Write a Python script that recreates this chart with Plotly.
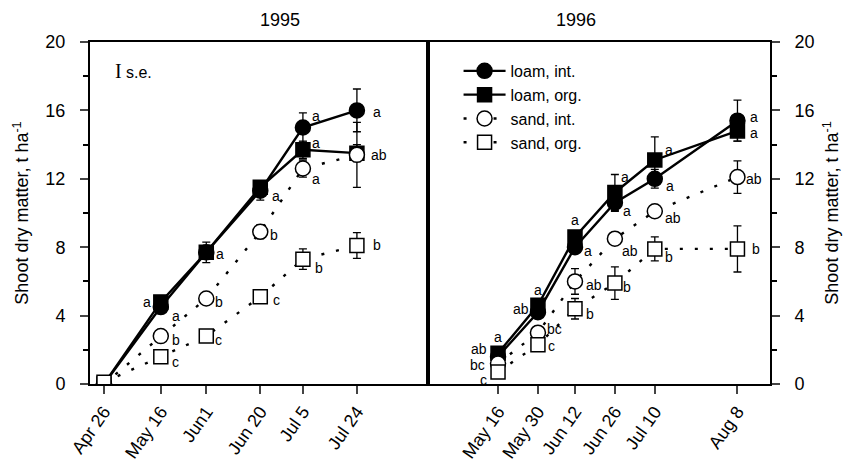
import plotly.graph_objects as go

# ---------------- data ----------------
dates_1995 = ["1995-04-26", "1995-05-16", "1995-06-01", "1995-06-20", "1995-07-05", "1995-07-24"]
ticklabels_1995 = ["Apr 26", "May 16", "Jun1", "Jun 20", "Jul 5", "Jul 24"]
dates_1996 = ["1996-05-16", "1996-05-30", "1996-06-12", "1996-06-26", "1996-07-10", "1996-08-08"]
ticklabels_1996 = ["May 16", "May 30", "Jun 12", "Jun 26", "Jul 10", "Aug 8"]

series_names = ["loam, int.", "loam, org.", "sand, int.", "sand, org."]

loam_int_1995 = [0.0, 4.5, 7.7, 11.3, 15.0, 16.0]
loam_org_1995 = [0.0, 4.8, 7.7, 11.5, 13.7, 13.5]
sand_int_1995 = [0.0, 2.8, 5.0, 8.9, 12.6, 13.4]
sand_org_1995 = [0.1, 1.6, 2.8, 5.1, 7.3, 8.1]
loam_int_1995_se = [0.0, 0.3, 0.6, 0.55, 0.85, 1.25]
loam_org_1995_se = [0.0, 0.3, 0.3, 0.3, 0.5, 0.5]
sand_int_1995_se = [0.0, 0.2, 0.2, 0.4, 0.5, 1.9]
sand_org_1995_se = [0.0, 0.2, 0.2, 0.2, 0.6, 0.75]

loam_int_1996 = [1.6, 4.2, 8.0, 10.6, 12.0, 15.4]
loam_org_1996 = [1.8, 4.6, 8.6, 11.2, 13.1, 14.8]
sand_int_1996 = [1.2, 3.0, 6.0, 8.5, 10.1, 12.1]
sand_org_1996 = [0.7, 2.3, 4.4, 5.9, 7.9, 7.9]
loam_int_1996_se = [0.2, 0.3, 0.3, 0.5, 0.55, 1.2]
loam_org_1996_se = [0.2, 0.3, 0.3, 1.05, 1.35, 0.6]
sand_int_1996_se = [0.2, 0.3, 0.75, 0.3, 0.3, 0.95]
sand_org_1996_se = [0.2, 0.3, 0.6, 0.95, 0.7, 1.35]

# significance letters: (date, y, letter, horizontal offset in px)
letters_1995 = [
    ("1995-05-16", 4.8, "a", -9), ("1995-05-16", 3.95, "a", 10),
    ("1995-05-16", 2.6, "b", 10), ("1995-05-16", 1.3, "c", 10),
    ("1995-06-01", 7.6, "a", 9), ("1995-06-01", 4.8, "b", 8), ("1995-06-01", 2.6, "c", 8),
    ("1995-06-20", 11.0, "a", 11), ("1995-06-20", 8.7, "b", 9), ("1995-06-20", 4.9, "c", 12),
    ("1995-07-05", 15.7, "a", 8), ("1995-07-05", 14.1, "a", 8),
    ("1995-07-05", 12.0, "a", 8), ("1995-07-05", 6.8, "b", 11),
    ("1995-07-24", 15.9, "a", 15), ("1995-07-24", 13.4, "ab", 13), ("1995-07-24", 8.1, "b", 15),
]
letters_1996 = [
    ("1996-05-16", 2.75, "a", 0), ("1996-05-16", 2.05, "ab", -10),
    ("1996-05-16", 1.12, "bc", -12), ("1996-05-16", 0.22, "c", -10),
    ("1996-05-30", 5.5, "a", 0), ("1996-05-30", 4.4, "ab", -8),
    ("1996-05-30", 3.2, "bc", 8), ("1996-05-30", 2.2, "c", 9),
    ("1996-06-12", 9.6, "a", 0), ("1996-06-12", 7.8, "a", 8),
    ("1996-06-12", 5.8, "ab", 10), ("1996-06-12", 4.1, "b", 10),
    ("1996-06-26", 12.1, "a", 5), ("1996-06-26", 10.1, "a", 7),
    ("1996-06-26", 7.8, "ab", 6), ("1996-06-26", 5.7, "b", 7),
    ("1996-07-10", 13.7, "a", 9), ("1996-07-10", 11.6, "a", 10),
    ("1996-07-10", 9.7, "ab", 9), ("1996-07-10", 7.4, "b", 9),
    ("1996-08-08", 15.6, "a", 12), ("1996-08-08", 14.7, "a", 12),
    ("1996-08-08", 12.0, "ab", 8), ("1996-08-08", 7.9, "b", 14),
]

# ---------------- styles ----------------
FONT = "Liberation Sans, Arial, Helvetica, sans-serif"
styles = {
    "loam, int.": dict(symbol="circle", fill="black", dash="solid", size=15),
    "loam, org.": dict(symbol="square", fill="black", dash="solid", size=14),
    "sand, int.": dict(symbol="circle", fill="white", dash="3px,12px", size=15),
    "sand, org.": dict(symbol="square", fill="white", dash="3px,12px", size=14),
}

fig = go.Figure()

def add_panel(dates, values, ses, xa, ya, showlegend):
    for name, y, se in zip(series_names, values, ses):
        st = styles[name]
        fig.add_trace(go.Scatter(
            x=dates, y=y, name=name, mode="lines+markers",
            xaxis=xa, yaxis=ya, showlegend=showlegend,
            line=dict(color="black", width=2.4, dash=st["dash"]),
            marker=dict(symbol=st["symbol"], size=st["size"], color=st["fill"], opacity=1,
                        line=dict(color="black", width=1.5)),
            error_y=dict(type="data", array=se, visible=True, color="black",
                         thickness=1.3, width=4),
        ))

vals95 = [loam_int_1995, loam_org_1995, sand_int_1995, sand_org_1995]
se95 = [loam_int_1995_se, loam_org_1995_se, sand_int_1995_se, sand_org_1995_se]
vals96 = [loam_int_1996, loam_org_1996, sand_int_1996, sand_org_1996]
se96 = [loam_int_1996_se, loam_org_1996_se, sand_int_1996_se, sand_org_1996_se]

add_panel(dates_1995, vals95, se95, "x", "y", False)
add_panel(dates_1996, vals96, se96, "x2", "y2", True)

annotations = []
for letters, xr, yr in [(letters_1995, "x", "y"), (letters_1996, "x2", "y2")]:
    for d, yv, txt, dx in letters:
        anchor = "left" if dx > 0 else ("right" if dx < 0 else "center")
        annotations.append(dict(x=d, y=yv, xref=xr, yref=yr, text=txt, showarrow=False,
                                xanchor=anchor, yanchor="middle", xshift=dx, borderpad=0,
                                font=dict(family=FONT, size=14, color="black")))

# panel titles
annotations += [
    dict(x=0.247, y=1.0, xref="paper", yref="paper", text="1995", showarrow=False,
         yanchor="bottom", yshift=10, font=dict(family=FONT, size=18, color="black")),
    dict(x=0.747, y=1.0, xref="paper", yref="paper", text="1996", showarrow=False,
         yanchor="bottom", yshift=10, font=dict(family=FONT, size=18, color="black")),
]
# s.e. key
annotations += [
    dict(x="1995-05-01", y=18.3, xref="x", yref="y", text="I", showarrow=False,
         xanchor="center", font=dict(family="Liberation Serif, serif", size=20, color="black")),
    dict(x="1995-05-01", y=18.2, xref="x", yref="y", text="s.e.", showarrow=False,
         xanchor="left", xshift=6, font=dict(family=FONT, size=16, color="black")),
]

ytitle = "Shoot dry matter, t ha<sup>-1</sup>"
common_y = dict(range=[0, 20], dtick=4, tick0=0, ticks="outside", ticklen=8, tickwidth=2,
                showline=True, linewidth=2, linecolor="black", mirror=True,
                showgrid=False, zeroline=False, ticklabelstandoff=11, automargin=False,
                tickfont=dict(family=FONT, size=18, color="black"),
                minor=dict(dtick=2, ticks="outside", ticklen=5, tickwidth=2, tickcolor="black"),
                title=dict(text=ytitle, font=dict(family=FONT, size=18, color="black"), standoff=12))
common_x = dict(type="date", ticks="outside", ticklen=8, tickwidth=2, tickangle=-55,
                showline=True, linewidth=2, linecolor="black", mirror=True,
                showgrid=False, zeroline=False, automargin=False,
                tickfont=dict(family=FONT, size=18, color="black"))

split = 0.497
fig.update_layout(
    width=844, height=461,
    margin=dict(l=82, r=82, t=34, b=85, autoexpand=False),
    paper_bgcolor="white", plot_bgcolor="white",
    font=dict(family=FONT, color="black"),
    xaxis=dict(common_x, domain=[0, split], range=["1995-04-21 02:00", "1995-08-18"],
               tickvals=dates_1995, ticktext=ticklabels_1995, anchor="y"),
    xaxis2=dict(common_x, domain=[split, 1], range=["1996-04-21 10:00", "1996-08-19 10:00"],
                tickvals=dates_1996, ticktext=ticklabels_1996, anchor="y2"),
    yaxis=dict(common_y, anchor="x", side="left"),
    yaxis2=dict(common_y, anchor="x2", side="right"),
    legend=dict(x=0.542, y=0.965, xanchor="left", yanchor="top", bgcolor="rgba(0,0,0,0)",
                font=dict(family=FONT, size=16, color="black"), itemwidth=42),
    annotations=annotations,
)

fig.write_html("out.html")
